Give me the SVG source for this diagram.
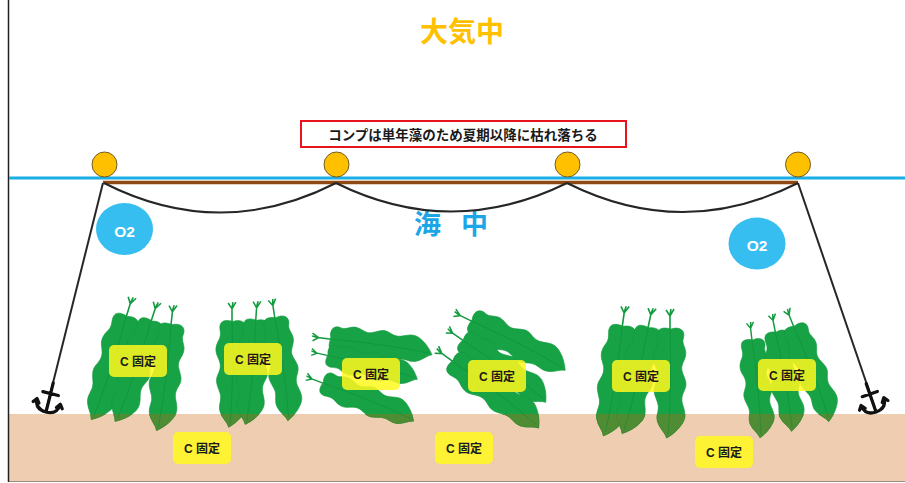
<svg xmlns="http://www.w3.org/2000/svg" xmlns:xlink="http://www.w3.org/1999/xlink" width="905" height="483" viewBox="0 0 905 483">
  <style>
    .jp { font-family: "Liberation Sans", "Noto Sans CJK JP", sans-serif; font-weight: bold; }
    .buoy { fill: #FFC000; stroke: #6E5B26; stroke-width: 1; }
    .mooring { fill: none; stroke: #262626; stroke-width: 2; }
    .anchor { fill: none; stroke: #111; stroke-width: 3.2; stroke-linecap: round; stroke-linejoin: round; }
    .o2 { fill: #35BEEF; }
    .o2 text { fill: #fff; font-family: "Liberation Sans", sans-serif; font-weight: bold; font-size: 15.5px; text-anchor: middle; }
    .kelp { fill: #17A245; stroke: #129A3F; stroke-width: 0.6; }
    .kelp-buried { fill: #4F8C34; stroke: #468330; stroke-width: 0.6; }
    .tag rect { fill: #FFF81E; fill-opacity: 0.85; }
    .tag text { font-family: "Liberation Sans", "Noto Sans CJK JP", sans-serif; font-weight: bold; font-size: 12px; fill: #1a1a1a; text-anchor: middle; }
  </style>
  <defs>
    <!-- single kelp blade, pointing down, origin at the top of the holdfast fork -->
    <g id="blade">
      <path d="M0,22 V5 M-4,0 L0,6 L4,-1 M0,5 L1,-1" fill="none" stroke-width="1.6"/>
      <path transform="scale(1.12,1)" d="M1,19 C9,16 14,21 12,28 C10,34 15,38 14,45 C13,52 9,55 11,62 C13,69 16,73 13,80 C10,87 10,90 12,97 C14,104 14,109 10,115 C7,120 3,124 -3,128 C-4,123 -9,119 -11,112 C-13,105 -9,100 -11,93 C-13,86 -16,81 -13,74 C-10,67 -10,63 -13,56 C-16,49 -15,44 -12,38 C-9,32 -12,27 -11,23 C-10,18 -6,17 1,19 Z"/>
      <path d="M0,20 C1,50 1,90 -2,124" fill="none" stroke="#0B8A35" stroke-opacity="0.55" stroke-width="0.9"/>
    </g>
    <g id="beds">
      <!-- bed 1 -->
      <use xlink:href="#blade" transform="translate(132,298) rotate(17)"/>
      <use xlink:href="#blade" transform="translate(157,303) rotate(18) scale(0.98)"/>
      <use xlink:href="#blade" transform="translate(173,306) rotate(6) scale(0.98)"/>
      <!-- bed 2 -->
      <use xlink:href="#blade" transform="translate(232,303) scale(0.97)"/>
      <use xlink:href="#blade" transform="translate(257,302) rotate(4) scale(0.96)"/>
      <use xlink:href="#blade" transform="translate(272,300) rotate(-9) scale(0.95)"/>
      <!-- bed 3 (lying) -->
      <use xlink:href="#blade" transform="translate(313,337) rotate(-83) scale(0.94)"/>
      <use xlink:href="#blade" transform="translate(312,352) rotate(-77) scale(0.85)"/>
      <use xlink:href="#blade" transform="translate(307,377) rotate(-69) scale(0.9)"/>
      <!-- bed 4 (slanted) -->
      <use xlink:href="#blade" transform="translate(455,313) rotate(-64) scale(0.97)"/>
      <use xlink:href="#blade" transform="translate(448,330) rotate(-55) scale(0.95)"/>
      <use xlink:href="#blade" transform="translate(437,350) rotate(-54)"/>
      <!-- bed 5 -->
      <use xlink:href="#blade" transform="translate(625,307) rotate(8) scale(1.02)"/>
      <use xlink:href="#blade" transform="translate(652,309) rotate(12)"/>
      <use xlink:href="#blade" transform="translate(670,310)"/>
      <!-- bed 6 -->
      <use xlink:href="#blade" transform="translate(750,323) rotate(-6.5) scale(0.9)"/>
      <use xlink:href="#blade" transform="translate(772,315) rotate(-11) scale(0.92)"/>
      <use xlink:href="#blade" transform="translate(787,310) rotate(-22) scale(0.93)"/>
    </g>
    <clipPath id="seabedClip">
      <rect x="9" y="414" width="896" height="69"/>
    </clipPath>
    <g id="anchorShape">
      <path d="M0,-30 V0 M-8,-19 H8 M-12,-10 Q-11,0 0,0 Q11,0 12,-10 M-15,-7 L-12,-11 L-9,-7 M9,-7 L12,-11 L15,-7"/>
    </g>
  </defs>

  <rect width="905" height="483" fill="#fff"/>

  <!-- seabed -->
  <g id="seabed">
    <rect x="9" y="414" width="896" height="67" fill="#EECDB0"/>
    <line x1="9" y1="481.5" x2="905" y2="481.5" stroke="#9A8E84" stroke-width="1"/>
  </g>
  <line x1="8.5" y1="0" x2="8.5" y2="482" stroke="#222" stroke-width="1.5"/>

  <!-- titles -->
  <text id="air" class="jp" x="462" y="42" font-size="28" fill="#FFC000" text-anchor="middle">大気中</text>
  <text id="sea" class="jp" font-size="27" fill="#1CA6E8"><tspan x="414" y="234">海</tspan> <tspan x="461" y="234">中</tspan></text>

  <g id="note">
    <rect x="301" y="121" width="325" height="26" fill="#fff" stroke="#E8141B" stroke-width="2"/>
    <text class="jp" x="463" y="139.5" font-size="13.5" fill="#1a1a1a" text-anchor="middle">コンプは単年藻のため夏期以降に枯れ落ちる</text>
  </g>

  <!-- sea surface and longline -->
  <g id="connectors">
    <line x1="9" y1="178" x2="905" y2="178" stroke="#1AAEE6" stroke-width="3"/>
    <line x1="103" y1="182.5" x2="798" y2="182.5" stroke="#8E4A12" stroke-width="3.5"/>
    <path class="mooring" d="M104,183 Q220,242 336,183 M336,183 Q451,240 567,183 M567,183 Q683,241 798,183"/>
    <line class="mooring" x1="103" y1="183" x2="46" y2="411"/>
    <line class="mooring" x1="798" y1="183" x2="876" y2="411"/>
  </g>

  <g id="anchor-left" class="anchor"><use xlink:href="#anchorShape" transform="translate(46,412) rotate(14)"/></g>
  <g id="anchor-right" class="anchor"><use xlink:href="#anchorShape" transform="translate(876,412) rotate(-19)"/></g>

  <g id="buoy-1"><circle class="buoy" cx="104.5" cy="164.5" r="12.5"/></g>
  <g id="buoy-2"><circle class="buoy" cx="336.5" cy="164.5" r="12.5"/></g>
  <g id="buoy-3"><circle class="buoy" cx="567.5" cy="164.5" r="12.5"/></g>
  <g id="buoy-4"><circle class="buoy" cx="798" cy="164.5" r="12.5"/></g>

  <g id="o2-left" class="o2"><ellipse cx="124.5" cy="229" rx="28.5" ry="26"/><text x="124.5" y="236.5">O2</text></g>
  <g id="o2-right" class="o2"><ellipse cx="757" cy="243.5" rx="28.5" ry="26"/><text x="757" y="251">O2</text></g>

  <!-- kelp beds; the part below the seabed line is tinted -->
  <g id="kelp">
    <use xlink:href="#beds" class="kelp"/>
    <use xlink:href="#beds" class="kelp-buried" clip-path="url(#seabedClip)"/>
  </g>

  <!-- carbon fixation tags -->
  <g id="tag-1" class="tag"><rect x="109" y="345" width="58" height="32" rx="5"/><text x="138" y="365.5">C 固定</text></g>
  <g id="tag-2" class="tag"><rect x="224" y="343" width="58" height="32" rx="5"/><text x="253" y="363.5">C 固定</text></g>
  <g id="tag-3" class="tag"><rect x="342" y="358" width="58" height="32" rx="5"/><text x="371" y="378.5">C 固定</text></g>
  <g id="tag-4" class="tag"><rect x="173" y="432" width="58" height="32" rx="5"/><text x="202" y="452.5">C 固定</text></g>
  <g id="tag-5" class="tag"><rect x="468" y="360" width="58" height="32" rx="5"/><text x="497" y="380.5">C 固定</text></g>
  <g id="tag-6" class="tag"><rect x="435" y="432" width="58" height="32" rx="5"/><text x="464" y="452.5">C 固定</text></g>
  <g id="tag-7" class="tag"><rect x="612" y="360" width="58" height="32" rx="5"/><text x="641" y="380.5">C 固定</text></g>
  <g id="tag-8" class="tag"><rect x="758" y="359" width="58" height="32" rx="5"/><text x="787" y="379.5">C 固定</text></g>
  <g id="tag-9" class="tag"><rect x="695" y="436" width="58" height="32" rx="5"/><text x="724" y="456.5">C 固定</text></g>
</svg>
